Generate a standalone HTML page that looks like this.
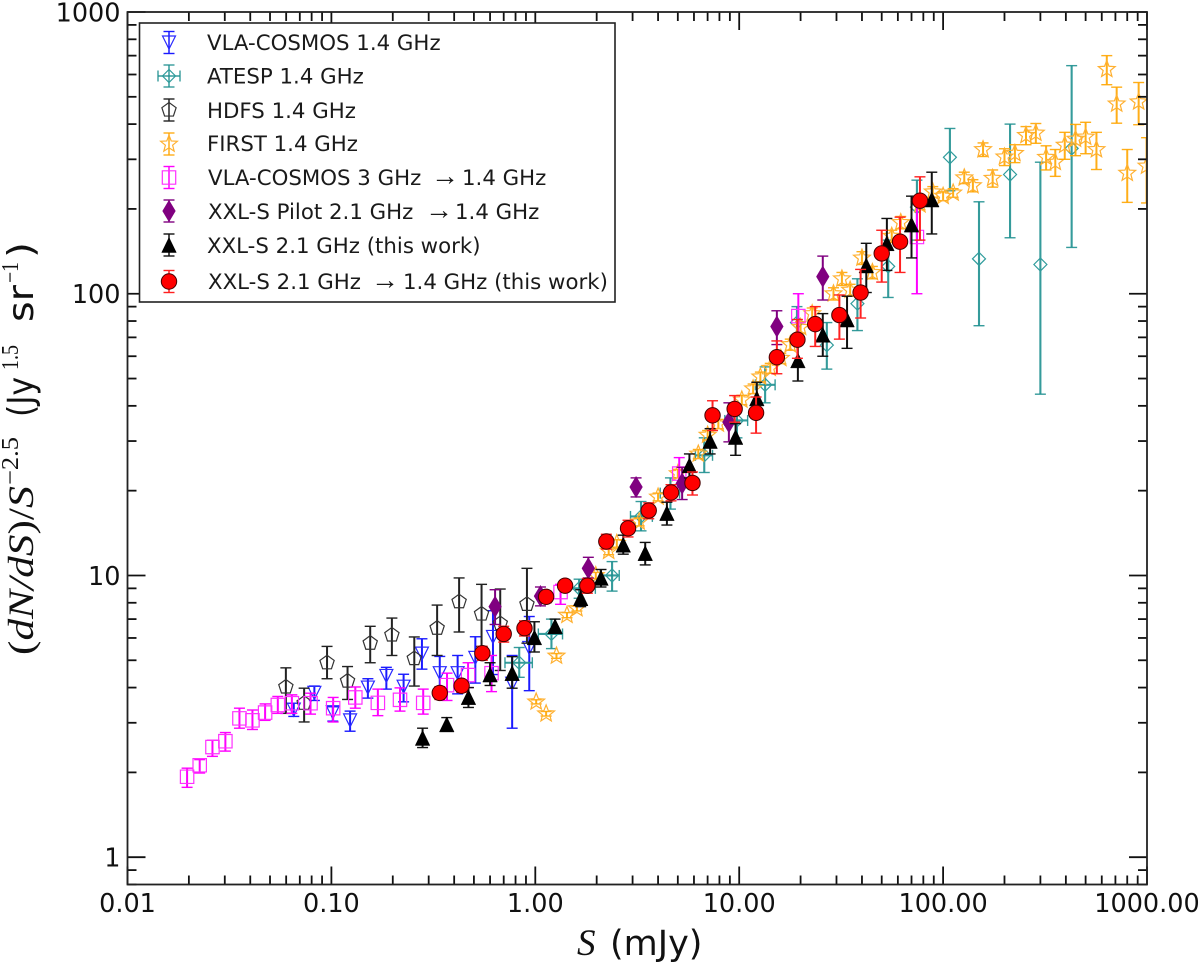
<!DOCTYPE html>
<html lang="en">
<head>
<meta charset="utf-8">
<title>Radio source counts</title>
<style>
html,body{margin:0;padding:0;background:#fff;width:1200px;height:965px;overflow:hidden}
svg{display:block;font-family:"DejaVu Sans","Liberation Sans",sans-serif;filter:blur(0.35px)}
.legend-text{font-size:21.3px;fill:#1a1a1a}
.legend-arrow{font-family:"Liberation Serif",serif;font-size:28px}
.tick-label{font-size:25.5px;fill:#111}
.math{font-family:"Liberation Serif",serif}
</style>
</head>
<body>
<svg id="chart" width="1200" height="965" viewBox="0 0 1200 965" xmlns="http://www.w3.org/2000/svg">
  <defs><clipPath id="plot-clip"><rect x="127.5" y="12" width="1019.5" height="872.5"/></clipPath></defs>
  <rect x="0" y="0" width="1200" height="965" fill="#fff"/>
  <g id="series-layer" clip-path="url(#plot-clip)"></g>
  <g id="tick-layer"></g>
  <rect x="127.5" y="12" width="1019.5" height="872.5" fill="none" stroke="#222" stroke-width="1.8"/>
  <g id="label-layer"></g>

  <text x="577" y="955" fill="#111"><tspan class="math" font-style="italic" font-size="37">S</tspan><tspan x="610" font-size="35">(mJy)</tspan></text>
  <g transform="translate(33,655) rotate(-90)" fill="#111">
    <text class="math" x="0" y="0" font-size="36" textLength="147" lengthAdjust="spacingAndGlyphs">(<tspan font-style="italic">dN/dS</tspan>)/</text>
    <text class="math" x="147" y="0" font-size="36" font-style="italic" textLength="22" lengthAdjust="spacingAndGlyphs">S</text>
    <text class="math" x="170" y="-15" font-size="24" textLength="48" lengthAdjust="spacingAndGlyphs">−2.5</text>
    <text x="238" y="0" font-size="36" textLength="40" lengthAdjust="spacingAndGlyphs">(Jy</text>
    <text class="math" x="285" y="-15" font-size="24" textLength="25" lengthAdjust="spacingAndGlyphs">1.5</text>
    <text x="333" y="0" font-size="36" textLength="37" lengthAdjust="spacingAndGlyphs">sr</text>
    <text class="math" x="372" y="-15" font-size="24" textLength="21" lengthAdjust="spacingAndGlyphs">−1</text>
    <text x="397" y="0" font-size="36" textLength="16" lengthAdjust="spacingAndGlyphs">)</text>
  </g>

  <g id="legend">
    <rect x="139.5" y="23" width="475.5" height="279" fill="#fff" stroke="#222" stroke-width="1.6"/>
    <g id="legend-handles"></g>
    <text class="legend-text" x="207" y="50">VLA-COSMOS 1.4 GHz</text>
    <text class="legend-text" x="207" y="83.5">ATESP 1.4 GHz</text>
    <text class="legend-text" x="207" y="118">HDFS 1.4 GHz</text>
    <text class="legend-text" x="207" y="151">FIRST 1.4 GHz</text>
    <text class="legend-text" x="208" y="185">VLA-COSMOS 3 GHz <tspan class="legend-arrow" x="431">→</tspan><tspan x="462">1.4 GHz</tspan></text>
    <text class="legend-text" x="208" y="219">XXL-S Pilot 2.1 GHz <tspan class="legend-arrow" x="425">→</tspan><tspan x="455">1.4 GHz</tspan></text>
    <text class="legend-text" x="207" y="253">XXL-S 2.1 GHz (this work)</text>
    <text class="legend-text" x="208" y="289">XXL-S 2.1 GHz <tspan class="legend-arrow" x="371">→</tspan><tspan x="403">1.4 GHz (this work)</tspan></text>
  </g>
</svg>
<script>
// ---- Axis tick values and labels ----
const xMajorTicks = [0.01, 0.1, 1, 10, 100, 1000];
const xTickLabels = ['0.01', '0.10', '1.00', '10.00', '100.00', '1000.00'];
const yMajorTicks = [1, 10, 100, 1000];
const yTickLabels = ['1', '10', '100', '1000'];
const minorMultipliers = [2, 3, 4, 5, 6, 7, 8, 9];

// ---- VLA-COSMOS 1.4 GHz ----
const vlaS  = [0.0654,0.0825,0.1016,0.1235,0.151,0.186,0.226,0.278,0.34,0.416,0.508,0.62,0.77,0.934];
const vlaN  = [3.34,3.83,3.27,3.06,4.0,4.4,4.03,5.28,4.5,4.5,5.1,6.05,4.13,5.53];
const vlaHi = [3.52,4.05,3.42,3.3,4.3,4.72,4.46,5.96,5.16,5.2,6.06,7.5,5.2,7.15];
const vlaLo = [3.16,3.6,3.04,2.8,3.67,3.95,3.56,4.65,3.87,3.8,4.15,4.45,2.87,3.9];

// ---- ATESP 1.4 GHz ----
const atespS   = [0.834,1.2,1.64,2.38,3.3,4.6,6.74,9.75,13.4,19.2,26.9,38,53.8,74.4,108,150,213,300,427];
const atespN   = [4.9,6.2,9,10,16.2,19.6,26.7,35.5,47.5,79,65.7,92.2,125,203,305,133,265,127,328];
const atespHi  = [5.55,7,9.7,11.2,18.3,22.2,30.8,40.5,55,90,79,113,155,253,386,212,400,293,645];
const atespLo  = [4.35,5.5,8.3,8.8,14.4,17.2,23.2,30.8,41,69,54,74,97,155,232,77,158,44,146];
const atespSLo = [0.71,1.035,1.4,2.08,2.93,4.1,6.1,8.5,12,19.2,26.9,38,53.8,74.4,108,150,213,300,427];
const atespSHi = [0.967,1.36,1.97,2.58,3.75,5.1,7.4,11,15,19.2,26.9,38,53.8,74.4,108,150,213,300,427];

// ---- HDFS 1.4 GHz ----
const hdfsS  = [0.0598,0.0735,0.0952,0.12,0.155,0.198,0.255,0.33,0.423,0.545,0.673,0.91];
const hdfsN  = [4.02,3.52,4.9,4.22,5.75,6.15,5.07,6.5,8.07,7.3,6.75,7.9];
const hdfsHi = [4.7,3.98,5.6,4.75,6.6,7.06,6.05,7.85,9.8,9.3,8.95,10.6];
const hdfsLo = [3.24,3.02,4.3,3.63,4.9,5.2,4.05,5.2,6.3,5.6,4.6,5.75];

// ---- FIRST 1.4 GHz ----
const firstS = [1.01,1.13,1.27,1.43,1.6,1.98,2.29,2.51,3.23,4,5,6.3,7,7.9,10.3,11.7,12.7,14.2,16,17.8,20,22.8,29,31.9,35,40,45,56,62,77,89,100,112,127,140,157,175,200,225,255,285,320,355,395,446,500,565,635,710,800,910,995];
const firstN = [3.56,3.23,5.18,7.23,7.63,10,12.2,13,15.5,19,23,27,31.5,34.5,42,46,50.7,54.4,59,66,76,85,100,113,103,134,119,160,179,207,230,222,228,258,242,325,257,306,315,365,372,305,293,337,354,360,325,626,472,268,480,284];
const firstErr = [0.06,0.06,0.1,0.15,0.15,0.25,0.35,0.4,0.5,0.6,0.8,1,1.2,1.3,1.6,1.8,2,2.2,2.5,3,3.5,4,5,6,5,7,6,8,9,8,10,8,8,12,12,18,18,21,23,27,30,30,32,37,45,46,49,74,69,57,82,74];

// ---- VLA-COSMOS 3 GHz converted to 1.4 GHz ----
const cosmos3S  = [0.0196,0.0226,0.0261,0.0302,0.0354,0.041,0.0473,0.0546,0.064,0.079,0.102,0.131,0.169,0.217,0.282,0.369,0.468,0.61,1.33,5.08,19.5,74.4];
const cosmos3N  = [1.93,2.12,2.46,2.58,3.11,3.06,3.26,3.47,3.52,3.52,3.38,3.69,3.53,3.62,3.53,4.08,4.43,4.5,8.73,23,83.3,159];
const cosmos3Hi = [2.07,2.22,2.6,2.77,3.38,3.33,3.5,3.72,3.77,3.82,3.69,4.02,3.95,3.99,3.95,4.5,4.9,5.2,9.3,26.2,100,218];
const cosmos3Lo = [1.77,1.99,2.28,2.38,2.87,2.84,3.06,3.24,3.24,3.22,3.02,3.38,3.18,3.3,3.22,3.6,4.0,3.87,7.9,20.6,69.6,100];

// ---- XXL-S Pilot ----
const pilotS  = [0.635,1.06,1.82,3.12,5.25,8.9,15.3,25.7];
const pilotN  = [7.75,8.45,10.6,20.6,21.2,35,76.5,115];
const pilotHi = [8.9,9.1,11.6,22.2,24.2,41,87,136];
const pilotLo = [6.7,7.8,9.8,19,18.6,29.8,66,95];

// ---- XXL-S 2.1 GHz (this work) ----
const xxl21S  = [0.28,0.368,0.47,0.6,0.77,0.99,1.25,1.67,2.1,2.7,3.46,4.42,5.7,7.2,9.6,12.2,19.4,25.7,33.8,42,53,70,88];
const xxl21N  = [2.65,2.96,3.7,4.45,4.5,6.03,6.6,8.3,9.8,12.85,12,16.65,24.6,30,31,42.5,58,71.5,81,126,151,176,216];
const xxl21Hi = [2.87,3.13,4,4.9,5.15,6.85,7,8.9,10.5,13.9,13.1,18.2,27,33.2,34.6,48.5,67,85,98,151,185,222,270];
const xxl21Lo = [2.45,2.8,3.4,4.07,3.98,5.35,6.25,7.75,9.1,11.9,10.9,15.1,22.2,27,26.7,38,49,60,64,101,121,134,163];

// ---- XXL-S 2.1 GHz converted to 1.4 GHz (this work) ----
const xxl14S  = [0.34,0.435,0.55,0.7,0.885,1.13,1.4,1.8,2.23,2.85,3.6,4.63,5.9,7.4,9.5,12.1,15.3,19.3,23.6,31,39.4,50,61.5,77];
const xxl14N  = [3.83,4.06,5.3,6.2,6.5,8.4,9.2,9.2,13.2,14.7,17,19.7,21.3,37,39,37.8,59.5,68.7,78,84,101,139,153,214];
const xxl14Hi = [4.03,4.25,5.6,6.6,6.9,8.8,9.6,9.75,14,15.7,18.1,21,23.3,41.7,43.5,43,68,81,90,99,122,168,187,260];
const xxl14Lo = [3.63,3.85,5,5.8,6.1,8,8.8,8.65,12.4,13.7,15.9,18.4,19.3,32.7,35,32,52,59,65,69,82,110,119,155];

// ---- Axis functions ----
const NS = 'http://www.w3.org/2000/svg';
const PLOT_LEFT = 127.5, PLOT_RIGHT = 1147, PLOT_TOP = 12, PLOT_BOTTOM = 884.5;
const X_MIN = 0.01, X_MAX = 1000, Y_MIN = 0.8, Y_MAX = 1000;
function xScale(v) {
  return PLOT_LEFT + (Math.log10(v) - Math.log10(X_MIN)) / (Math.log10(X_MAX) - Math.log10(X_MIN)) * (PLOT_RIGHT - PLOT_LEFT);
}
function yScale(v) {
  return PLOT_BOTTOM - (Math.log10(v) - Math.log10(Y_MIN)) / (Math.log10(Y_MAX) - Math.log10(Y_MIN)) * (PLOT_BOTTOM - PLOT_TOP);
}
function makeSvg(tag, parent) {
  const el = document.createElementNS(NS, tag);
  parent.appendChild(el);
  return el;
}
function drawLine(parent, x1, y1, x2, y2, color, width, opacity) {
  const ln = makeSvg('line', parent);
  ln.setAttribute('x1', x1);
  ln.setAttribute('y1', y1);
  ln.setAttribute('x2', x2);
  ln.setAttribute('y2', y2);
  ln.setAttribute('stroke', color);
  ln.setAttribute('stroke-width', width);
  if (opacity) ln.setAttribute('stroke-opacity', opacity);
  return ln;
}
function polygonPoints(cx, cy, radii, count, startAngle) {
  const pts = [];
  for (let i = 0; i < count; i++) {
    const a = startAngle + i * 2 * Math.PI / count;
    const r = radii[i % radii.length];
    pts.push((cx + r * Math.cos(a)).toFixed(2) + ',' + (cy + r * Math.sin(a)).toFixed(2));
  }
  return pts.join(' ');
}
function drawMarker(parent, kind, cx, cy, color) {
  let m;
  if (kind === 'circle') {
    m = makeSvg('circle', parent);
    m.setAttribute('cx', cx);
    m.setAttribute('cy', cy);
    m.setAttribute('r', 7.7);
    m.setAttribute('fill', '#ff0000');
    m.setAttribute('stroke', '#400');
    m.setAttribute('stroke-width', 1);
    return m;
  }
  m = makeSvg('polygon', parent);
  let pts = '', fill = 'none', sw = 1.2, stroke = color;
  if (kind === 'tri-down') pts = [[cx - 6.5, cy - 6.5], [cx + 6.5, cy - 6.5], [cx, cy + 6.5]].map(p => p.join(',')).join(' ');
  if (kind === 'tri-up') { pts = [[cx - 7.3, cy + 7.5], [cx + 7.3, cy + 7.5], [cx, cy - 7.5]].map(p => p.join(',')).join(' '); fill = '#000'; stroke = '#000'; sw = 0.5; }
  if (kind === 'open-diamond') pts = [[cx - 6.5, cy], [cx, cy - 6.5], [cx + 6.5, cy], [cx, cy + 6.5]].map(p => p.join(',')).join(' ');
  if (kind === 'tall-diamond') { pts = [[cx - 6.3, cy], [cx, cy - 10.5], [cx + 6.3, cy], [cx, cy + 10.5]].map(p => p.join(',')).join(' '); fill = color; sw = 0.6; }
  if (kind === 'square') pts = [[cx - 6.7, cy - 6.7], [cx + 6.7, cy - 6.7], [cx + 6.7, cy + 6.7], [cx - 6.7, cy + 6.7]].map(p => p.join(',')).join(' ');
  if (kind === 'pentagon') pts = polygonPoints(cx, cy, [7.5], 5, -Math.PI / 2);
  if (kind === 'star') pts = polygonPoints(cx, cy, [8.8, 3.8], 10, -Math.PI / 2);
  m.setAttribute('points', pts);
  m.setAttribute('fill', fill);
  m.setAttribute('stroke', stroke);
  m.setAttribute('stroke-width', sw);
  return m;
}
function drawPoint(parent, series, i, capHalf) {
  const cx = xScale(series.s[i]);
  const cy = yScale(series.n[i]);
  const yTop = yScale(series.hi[i]);
  const yBot = yScale(series.lo[i]);
  const g = makeSvg('g', parent);
  
  
  drawLine(g, cx, yTop, cx, yBot, series.err, series.lw, series.alpha);
  drawLine(g, cx - capHalf, yTop, cx + capHalf, yTop, series.err, 1.4, series.alpha);
  drawLine(g, cx - capHalf, yBot, cx + capHalf, yBot, series.err, 1.4, series.alpha);
  if (series.sLo && series.sLo[i] !== series.sHi[i]) {
    const xl = xScale(series.sLo[i]), xr = xScale(series.sHi[i]);
    drawLine(g, xl, cy, xr, cy, series.err, series.lw, series.alpha);
    drawLine(g, xl, cy - capHalf, xl, cy + capHalf, series.err, 1.4, series.alpha);
    drawLine(g, xr, cy - capHalf, xr, cy + capHalf, series.err, 1.4, series.alpha);
  }
  drawMarker(g, series.kind, cx, cy, series.color);
}
function drawHandle(parent, kind, color, errColor, cy, horiz, alpha) {
  const cx = 169;
  const g = makeSvg('g', parent);
  
  
  drawLine(g, cx, cy - 11, cx, cy + 11, errColor, 1.5, alpha);
  drawLine(g, cx - 5.5, cy - 11, cx + 5.5, cy - 11, errColor, 1.4, alpha);
  drawLine(g, cx - 5.5, cy + 11, cx + 5.5, cy + 11, errColor, 1.4, alpha);
  if (horiz) {
    drawLine(g, cx - 11, cy, cx + 11, cy, errColor, 1.5, alpha);
    drawLine(g, cx - 11, cy - 5.5, cx - 11, cy + 5.5, errColor, 1.4, alpha);
    drawLine(g, cx + 11, cy - 5.5, cx + 11, cy + 5.5, errColor, 1.4, alpha);
  }
  drawMarker(g, kind, cx, cy, color);
}

// ---- Series, in drawing order ----
const seriesList = [
  {name:'vla-cosmos', s:vlaS, n:vlaN, hi:vlaHi, lo:vlaLo, kind:'tri-down', color:'#2a2aff', err:'#1a1aff', lw:2, cap:5.5},
  {name:'atesp', s:atespS, n:atespN, hi:atespHi, lo:atespLo, sLo:atespSLo, sHi:atespSHi, kind:'open-diamond', color:'#2f9c9c', err:'#1f9090', lw:2.1, cap:5.5, alpha:0.9},
  {name:'hdfs', s:hdfsS, n:hdfsN, hi:hdfsHi, lo:hdfsLo, kind:'pentagon', color:'#333', err:'#222', lw:2, cap:5.5},
  {name:'first', s:firstS, n:firstN, hi:firstHi(), lo:firstLo(), kind:'star', color:'#ffb030', err:'#ffa500', lw:2, cap:5.5, alpha:0.9},
  {name:'vla-cosmos-3ghz', s:cosmos3S, n:cosmos3N, hi:cosmos3Hi, lo:cosmos3Lo, kind:'square', color:'#ff30ff', err:'#ff00ff', lw:2, cap:5.5},
  {name:'xxl-pilot', s:pilotS, n:pilotN, hi:pilotHi, lo:pilotLo, kind:'tall-diamond', color:'#800080', err:'#800080', lw:2, cap:5.5},
  {name:'xxl-21', s:xxl21S, n:xxl21N, hi:xxl21Hi, lo:xxl21Lo, kind:'tri-up', color:'#000', err:'#111', lw:2, cap:5.5},
  {name:'xxl-14', s:xxl14S, n:xxl14N, hi:xxl14Hi, lo:xxl14Lo, kind:'circle', color:'#ff0000', err:'#ff2020', lw:2, cap:5.5}
];
function firstHi() { return firstN.map((v, i) => v + firstErr[i]); }
function firstLo() { return firstN.map((v, i) => v - firstErr[i]); }

const seriesLayer = document.getElementById('series-layer');
seriesList.forEach(function (series) {
  const g = makeSvg('g', seriesLayer);
  
  
  series.s.forEach(function (_, i) { drawPoint(g, series, i, series.cap); });
});

// ---- Ticks (inward on all four sides) ----
const tickLayer = document.getElementById('tick-layer');
const MAJOR = 18, MINOR = 9;
function xTick(v, len, w) {
  const x = xScale(v);
  drawLine(tickLayer, x, PLOT_BOTTOM, x, PLOT_BOTTOM - len, '#111', w);
  drawLine(tickLayer, x, PLOT_TOP, x, PLOT_TOP + len, '#111', w);
}
function yTick(v, len, w) {
  const y = yScale(v);
  drawLine(tickLayer, PLOT_LEFT, y, PLOT_LEFT + len, y, '#111', w);
  drawLine(tickLayer, PLOT_RIGHT, y, PLOT_RIGHT - len, y, '#111', w);
}
xMajorTicks.forEach(function (d) {
  xTick(d, MAJOR, 1.8);
  if (d < X_MAX) minorMultipliers.forEach(function (m) { xTick(d * m, MINOR, 1.8); });
});
yMajorTicks.forEach(function (d) {
  yTick(d, MAJOR, 1.8);
  if (d < Y_MAX) minorMultipliers.forEach(function (m) { yTick(d * m, MINOR, 1.8); });
});
[0.8, 0.9].forEach(function (v) { yTick(v, MINOR, 1.8); });

// ---- Tick labels ----
const labelLayer = document.getElementById('label-layer');
xMajorTicks.forEach(function (v, i) {
  const t = makeSvg('text', labelLayer);
  
  
  t.setAttribute('class', 'tick-label');
  t.setAttribute('x', xScale(v));
  t.setAttribute('y', 912);
  t.setAttribute('text-anchor', 'middle');
  t.textContent = xTickLabels[i];
});
yMajorTicks.forEach(function (v, i) {
  const t = makeSvg('text', labelLayer);
  
  
  t.setAttribute('class', 'tick-label');
  t.setAttribute('x', 120.5);
  t.setAttribute('y', yScale(v) + 9.5);
  t.setAttribute('text-anchor', 'end');
  t.textContent = yTickLabels[i];
});

// ---- Legend handles ----
const handleLayer = document.getElementById('legend-handles');
drawHandle(handleLayer, 'tri-down', '#2a2aff', '#1a1aff', 42.5, false);
drawHandle(handleLayer, 'open-diamond', '#2f9c9c', '#1f9090', 76, true, 0.9);
drawHandle(handleLayer, 'pentagon', '#333', '#222', 110, false);
drawHandle(handleLayer, 'star', '#ffb030', '#ffa500', 144, false, 0.9);
drawHandle(handleLayer, 'square', '#ff30ff', '#ff00ff', 177.5, false);
drawHandle(handleLayer, 'tall-diamond', '#800080', '#800080', 211, false);
drawHandle(handleLayer, 'tri-up', '#000', '#111', 245, false);
drawHandle(handleLayer, 'circle', '#ff0000', '#ff2020', 281.5, false);
</script>
</body>
</html>
